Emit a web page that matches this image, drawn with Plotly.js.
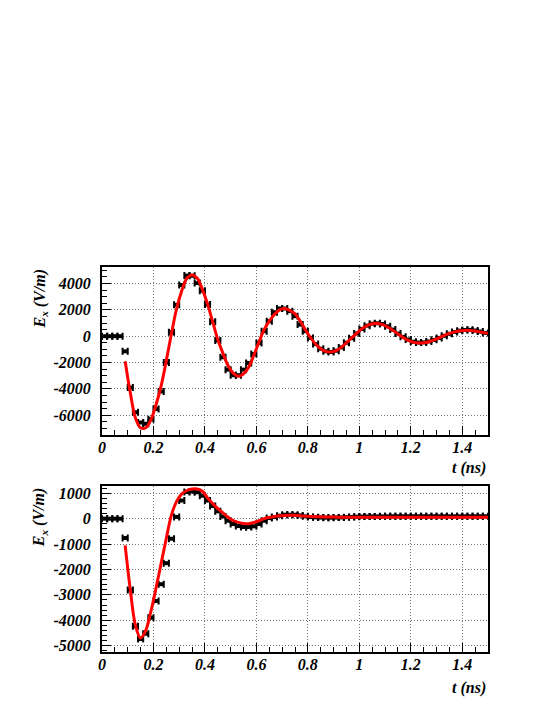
<!DOCTYPE html>
<html>
<head>
<meta charset="utf-8">
<script src="https://cdn.plot.ly/plotly-3.0.1.min.js"></script>
<style>
  html, body { margin: 0; padding: 0; background: #ffffff; }
  #plot { width: 554px; height: 717px; }
</style>
</head>
<body>
<div id="plot"></div>
<script>
// bin centres (ns), bin half width
const tBins = [0.01, 0.03, 0.05, 0.07, 0.09, 0.11, 0.13, 0.15, 0.17, 0.19, 0.21, 0.23, 0.25, 0.27, 0.29,
  0.31, 0.33, 0.35, 0.37, 0.39, 0.41, 0.43, 0.45, 0.47, 0.49, 0.51, 0.53, 0.55, 0.57, 0.59,
  0.61, 0.63, 0.65, 0.67, 0.69, 0.71, 0.73, 0.75, 0.77, 0.79, 0.81, 0.83, 0.85, 0.87, 0.89,
  0.91, 0.93, 0.95, 0.97, 0.99, 1.01, 1.03, 1.05, 1.07, 1.09, 1.11, 1.13, 1.15, 1.17, 1.19,
  1.21, 1.23, 1.25, 1.27, 1.29, 1.31, 1.33, 1.35, 1.37, 1.39, 1.41, 1.43, 1.45, 1.47, 1.49];
const binHalfWidth = 0.01;

// upper pad: simulated field
const exTop = [0, 0, 0, 0, -1150, -3900, -5770, -6550, -6650, -6300, -5530, -4200, -2000, 300, 2380,
  3880, 4600, 4580, 4030, 3450, 2400, 1090, -330, -1600, -2540, -2960, -2960, -2540, -2030, -1350,
  -510, 380, 1140, 1820, 2100, 2100, 1900, 1520, 880, 380, -130, -600, -950, -1150, -1200,
  -1100, -850, -500, -150, 200, 550, 800, 950, 980, 920, 750, 500, 200, -50, -250,
  -420, -480, -470, -400, -280, -130, 30, 180, 320, 420, 470, 480, 430, 350, 250];

// lower pad: simulated field
const exBottom = [0, 0, 0, 0, -760, -2810, -4240, -4740, -4530, -3900, -3240, -2580, -1750, -790, 70,
  720, 1050, 1075, 1040, 900, 720, 500, 290, 90, -80, -210, -290, -328, -328, -300,
  -210, -80, 25, 65, 118, 157, 157, 157, 130, 92, 65, 52, 45, 40, 40,
  45, 50, 60, 70, 80, 85, 88, 90, 90, 92, 95, 95, 95, 95, 95,
  95, 95, 95, 95, 95, 95, 95, 95, 95, 95, 95, 95, 95, 95, 95];

// fitted curves (red)
const tFit = [0.09, 0.11, 0.13, 0.15, 0.17, 0.19, 0.21, 0.23, 0.25, 0.27, 0.29,
  0.31, 0.33, 0.35, 0.37, 0.39, 0.41, 0.43, 0.45, 0.47, 0.49, 0.51, 0.53, 0.55, 0.57, 0.59,
  0.61, 0.63, 0.65, 0.67, 0.69, 0.71, 0.73, 0.75, 0.77, 0.79, 0.81, 0.83, 0.85, 0.87, 0.89,
  0.91, 0.93, 0.95, 0.97, 0.99, 1.01, 1.03, 1.05, 1.07, 1.09, 1.11, 1.13, 1.15, 1.17, 1.19,
  1.21, 1.23, 1.25, 1.27, 1.29, 1.31, 1.33, 1.35, 1.37, 1.39, 1.41, 1.43, 1.45, 1.47, 1.49, 1.50];
const fitTop = [-1900, -4300, -6200, -6950, -6950, -6350, -5200, -3750, -1850, 200, 2100,
  3450, 4400, 4650, 4400, 3550, 2450, 1100, -250, -1300, -2250, -2800, -3040, -2850, -2350, -1450,
  -450, 500, 1150, 1650, 2000, 2100, 1950, 1700, 1150, 500, -100, -600, -950, -1150, -1200,
  -1100, -850, -500, -130, 230, 560, 800, 940, 960, 880, 700, 450, 170, -100, -320,
  -460, -520, -500, -420, -280, -120, 60, 210, 330, 410, 440, 430, 390, 320, 250, 220];
const fitBottom = [-1050, -2800, -4200, -4700, -4400, -3650, -2730, -1750, -770, 150, 680,
  980, 1110, 1170, 1170, 1080, 820, 600, 400, 230, 60, -70, -145, -190, -195, -150,
  -80, 0, 50, 90, 118, 130, 135, 132, 120, 100, 90, 80, 72, 68, 65,
  62, 60, 60, 58, 58, 56, 56, 55, 55, 55, 55, 55, 55, 55, 55,
  55, 55, 55, 55, 55, 55, 55, 55, 55, 55, 55, 55, 55, 55, 55, 55];

// axis ticks
const xTickVals = [0, 0.2, 0.4, 0.6, 0.8, 1, 1.2, 1.4];
const xTickText = ['0', '0.2', '0.4', '0.6', '0.8', '1', '1.2', '1.4'];
const yTopVals = [-6000, -4000, -2000, 0, 2000, 4000];
const yTopText = ['-6000', '-4000', '-2000', '0', '2000', '4000'];
const yBottomVals = [-5000, -4000, -3000, -2000, -1000, 0, 1000];
const yBottomText = ['-5000', '-4000', '-3000', '-2000', '-1000', '0', '1000'];

// a fallback list stops the serif face from being picked, so keep one name
const serif = 'Liberation Serif';
const tickFont = { family: serif, size: 16, color: '#000000', weight: 'bold', style: 'italic' };
const titleFont = { family: serif, size: 16, color: '#000000', weight: 'bold', style: 'italic' };

function pointsTrace(y, xa, ya) {
  return {
    x: tBins, y: y, xaxis: xa, yaxis: ya,
    type: 'scatter', mode: 'markers',
    marker: { color: '#000000', size: 4, symbol: 'square' },
    error_x: { type: 'constant', value: binHalfWidth, color: '#000000', thickness: 2, width: 3.5 },
    hoverinfo: 'x+y', showlegend: false
  };
}

function fitTrace(y, xa, ya) {
  return {
    x: tFit, y: y, xaxis: xa, yaxis: ya,
    type: 'scatter', mode: 'lines',
    line: { color: '#ff0000', width: 3, shape: 'spline', smoothing: 1 },
    hoverinfo: 'skip', showlegend: false
  };
}

function xAxis(domainAnchor) {
  return {
    anchor: domainAnchor, domain: [0, 1], range: [0, 1.5],
    tickmode: 'array', tickvals: xTickVals, ticktext: xTickText,
    ticks: 'inside', ticklen: 9, tickwidth: 1, tickcolor: '#000000',
    minor: { tickmode: 'linear', tick0: 0, dtick: 0.05, ticks: 'inside', ticklen: 5, tickcolor: '#000000', showgrid: false },
    showgrid: true, gridcolor: '#777777', griddash: '1px,2px', gridwidth: 1,
    showline: true, mirror: true, linecolor: '#000000', linewidth: 2,
    zeroline: false, tickfont: tickFont, ticklabelstandoff: -3, fixedrange: true
  };
}

function yAxis(domain, range, vals, text, minorStep, xa) {
  return {
    anchor: xa, domain: domain, range: range,
    tickmode: 'array', tickvals: vals, ticktext: text,
    ticks: 'inside', ticklen: 9, tickwidth: 1, tickcolor: '#000000',
    minor: { tickmode: 'linear', tick0: 0, dtick: minorStep, ticks: 'inside', ticklen: 5, tickcolor: '#000000', showgrid: false },
    showgrid: true, gridcolor: '#777777', griddash: '1px,2px', gridwidth: 1,
    showline: true, mirror: true, linecolor: '#000000', linewidth: 2,
    zeroline: false, tickfont: tickFont, ticklabelstandoff: 6, fixedrange: true
  };
}

const data = [
  pointsTrace(exTop, 'x', 'y'),
  fitTrace(fitTop, 'x', 'y'),
  pointsTrace(exBottom, 'x2', 'y2'),
  fitTrace(fitBottom, 'x2', 'y2')
];

const layout = {
  width: 554, height: 717,
  margin: { l: 102, r: 66, t: 267, b: 65 },
  paper_bgcolor: '#ffffff', plot_bgcolor: '#ffffff',
  showlegend: false,
  xaxis: xAxis('y'),
  yaxis: yAxis([0.5636, 1], [-7500, 5250], yTopVals, yTopText, 500, 'x'),
  xaxis2: xAxis('y2'),
  yaxis2: yAxis([0, 0.432], [-5250, 1300], yBottomVals, yBottomText, 200, 'x2'),
  annotations: [
    { text: 'E<sub>x</sub> (V/m)', xref: 'paper', yref: 'paper', x: -0.16, y: 0.998, xanchor: 'center', yanchor: 'top', textangle: -90, showarrow: false, font: titleFont },
    { text: 'E<sub>x</sub> (V/m)', xref: 'paper', yref: 'paper', x: -0.16, y: 0.43, xanchor: 'center', yanchor: 'top', textangle: -90, showarrow: false, font: titleFont },
    { text: 't (ns)', xref: 'paper', yref: 'paper', x: 1, y: 0.478, xanchor: 'right', yanchor: 'middle', showarrow: false, font: titleFont },
    { text: 't (ns)', xref: 'paper', yref: 'paper', x: 1, y: -0.0935, xanchor: 'right', yanchor: 'middle', showarrow: false, font: titleFont }
  ]
};

Plotly.newPlot('plot', data, layout, { displayModeBar: false, staticPlot: true });
</script>
</body>
</html>
